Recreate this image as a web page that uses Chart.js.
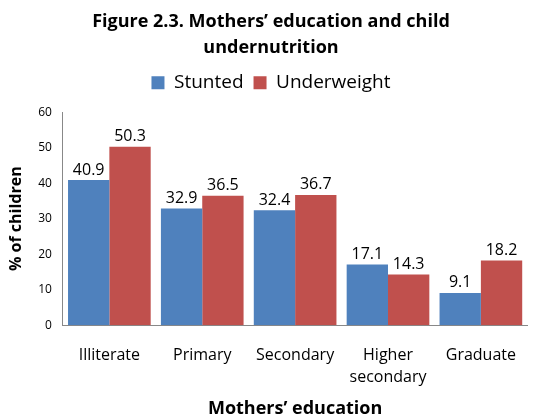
<!DOCTYPE html>
<html>
<head>
<meta charset="utf-8">
<script src="https://cdn.jsdelivr.net/npm/chart.js"></script>
<style>
  body { margin: 0; background: #fff; }
</style>
</head>
<body>
<canvas id="myChart" width="535" height="415"></canvas>
<script>
var categories = ['Illiterate', 'Primary', 'Secondary', ['Higher', 'secondary'], 'Graduate'];
var stunted = [40.9, 32.9, 32.4, 17.1, 9.1];
var underweight = [50.3, 36.5, 36.7, 14.3, 18.2];

var fontName = "'Open Sans', 'Liberation Sans', sans-serif";

// draws the value above each bar
var barLabels = {
  id: 'barLabels',
  afterDatasetsDraw: function(chart) {
    var c = chart.ctx;
    c.save();
    c.font = '16px ' + fontName;
    c.fillStyle = '#000';
    c.textAlign = 'center';
    c.textBaseline = 'bottom';
    chart.data.datasets.forEach(function(ds, i) {
      chart.getDatasetMeta(i).data.forEach(function(bar, j) {
        c.fillText(ds.data[j].toFixed(1), bar.x, bar.y - 2);
      });
    });
    c.restore();
  }
};

// extra room under the legend
var legendGap = {
  id: 'legendGap',
  beforeInit: function(chart) {
    var fit = chart.legend.fit;
    chart.legend.fit = function() {
      fit.bind(chart.legend)();
      this.height += 10;
    };
  }
};

var ctx = document.getElementById('myChart').getContext('2d');
var myChart = new Chart(ctx, {
  type: 'bar',
  data: {
    labels: categories,
    datasets: [
      { label: 'Stunted', data: stunted, backgroundColor: '#4F81BD', categoryPercentage: 0.89, barPercentage: 1 },
      { label: 'Underweight', data: underweight, backgroundColor: '#C0504D', categoryPercentage: 0.89, barPercentage: 1 }
    ]
  },
  options: {
    responsive: false,
    animation: false,
    layout: { padding: { left: 7, right: 0, top: 9, bottom: -3 } },
    plugins: {
      title: {
        display: true,
        text: ['Figure 2.3. Mothers\u2019 education and child', 'undernutrition'],
        color: '#000',
        font: { family: fontName, size: 18, weight: 'bold', lineHeight: 1.45 },
        padding: { top: 0, bottom: 2 }
      },
      legend: {
        labels: {
          color: '#000',
          font: { family: fontName, size: 19 },
          boxWidth: 13, boxHeight: 13, padding: 10
        }
      },
      tooltip: { enabled: false }
    },
    scales: {
      x: {
        grid: { display: false, drawTicks: false },
        border: { color: '#888' },
        ticks: { color: '#000', font: { family: fontName, size: 16, lineHeight: 1.4 }, padding: 19, maxRotation: 0 },
        title: {
          display: true,
          text: 'Mothers\u2019 education',
          color: '#000',
          font: { family: fontName, size: 18, weight: 'bold', lineHeight: 1 },
          padding: { top: -8, bottom: 0 }
        }
      },
      y: {
        min: 0, max: 60,
        grid: { display: false, drawOnChartArea: false, drawTicks: true, tickLength: 5, color: '#888' },
        border: { color: '#888' },
        ticks: { stepSize: 10, color: '#000', font: { family: fontName, size: 12 }, padding: 6 },
        title: {
          display: true,
          text: '% of children',
          color: '#000',
          font: { family: fontName, size: 16, weight: 'bold' },
          padding: { top: 0, bottom: 6 }
        }
      }
    }
  },
  plugins: [barLabels, legendGap]
});
</script>
</body>
</html>
